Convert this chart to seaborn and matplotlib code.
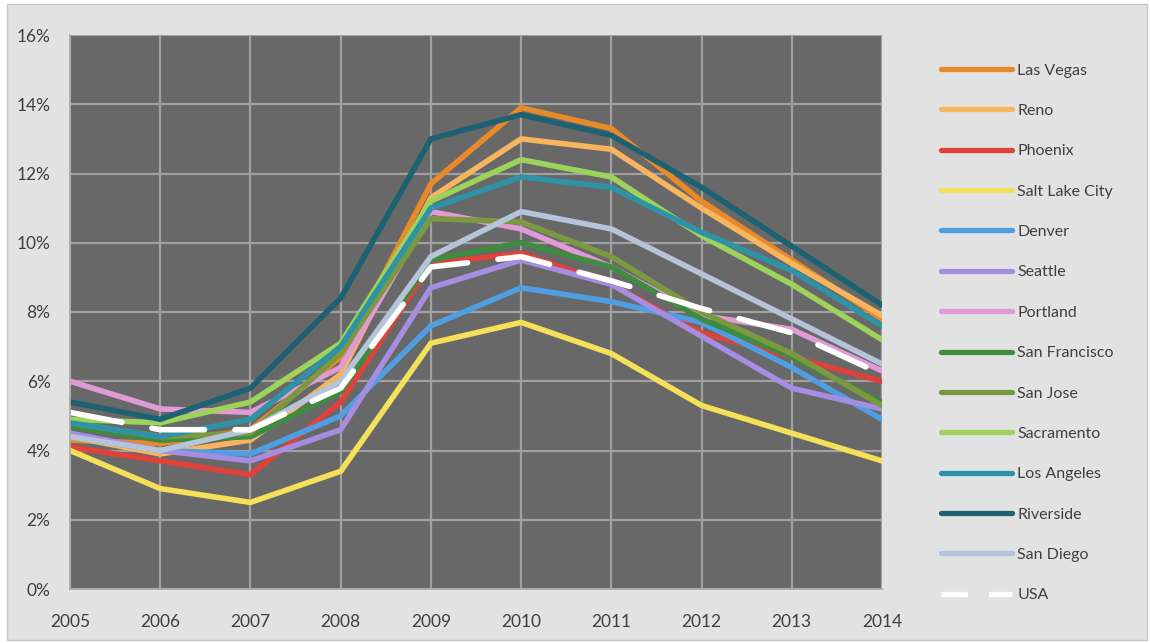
import numpy as np
import pandas as pd
import matplotlib
matplotlib.use("Agg")
import matplotlib.pyplot as plt
from matplotlib.lines import Line2D
from matplotlib.patches import Rectangle
from matplotlib.ticker import FuncFormatter
import seaborn as sns

# Unemployment rate (%) by metro area, 2005-2014
years = [2005, 2006, 2007, 2008, 2009, 2010, 2011, 2012, 2013, 2014]

las_vegas      = [4.3, 4.2, 4.6, 6.7, 11.7, 13.9, 13.3, 11.2, 9.5, 7.8]
reno           = [4.4, 3.9, 4.3, 6.2, 11.3, 13.0, 12.7, 11.0, 9.4, 7.9]
phoenix        = [4.1, 3.7, 3.3, 5.4, 9.4, 9.7, 8.8, 7.4, 6.7, 6.0]
salt_lake_city = [4.0, 2.9, 2.5, 3.4, 7.1, 7.7, 6.8, 5.3, 4.5, 3.7]
denver         = [4.4, 4.0, 3.9, 5.0, 7.6, 8.7, 8.3, 7.7, 6.4, 4.9]
seattle        = [4.5, 4.0, 3.7, 4.6, 8.7, 9.5, 8.8, 7.3, 5.8, 5.2]
portland       = [6.0, 5.2, 5.1, 6.4, 10.9, 10.4, 9.3, 7.9, 7.5, 6.3]
san_francisco  = [4.7, 4.3, 4.4, 5.7, 9.5, 10.0, 9.3, 7.8, 6.7, 5.4]
san_jose       = [4.8, 4.4, 4.5, 6.8, 10.7, 10.6, 9.6, 8.0, 6.8, 5.3]
sacramento     = [4.9, 4.8, 5.4, 7.1, 11.2, 12.4, 11.9, 10.2, 8.8, 7.2]
los_angeles    = [4.8, 4.4, 4.9, 7.0, 11.0, 11.9, 11.6, 10.3, 9.2, 7.6]
riverside      = [5.4, 4.9, 5.8, 8.4, 13.0, 13.7, 13.1, 11.6, 9.9, 8.2]
san_diego      = [4.4, 4.0, 4.6, 6.0, 9.6, 10.9, 10.4, 9.1, 7.8, 6.5]
usa            = [5.1, 4.6, 4.6, 5.8, 9.3, 9.6, 8.9, 8.1, 7.4, 6.2]

series_names = ["Las Vegas", "Reno", "Phoenix", "Salt Lake City", "Denver",
                "Seattle", "Portland", "San Francisco", "San Jose",
                "Sacramento", "Los Angeles", "Riverside", "San Diego", "USA"]
series_values = [las_vegas, reno, phoenix, salt_lake_city, denver, seattle,
                 portland, san_francisco, san_jose, sacramento, los_angeles,
                 riverside, san_diego, usa]

colors = {
    "Las Vegas": "#e8892a",
    "Reno": "#f8b560",
    "Phoenix": "#e0413a",
    "Salt Lake City": "#f5e05a",
    "Denver": "#4f9ee2",
    "Seattle": "#a58ee2",
    "Portland": "#e09ad6",
    "San Francisco": "#3e8c40",
    "San Jose": "#7b9a40",
    "Sacramento": "#9dd35a",
    "Los Angeles": "#2f93a8",
    "Riverside": "#1c6273",
    "San Diego": "#b6c4da",
    "USA": "#ffffff",
}

df = pd.DataFrame(
    [(name, yr, val) for name, vals in zip(series_names, series_values)
     for yr, val in zip(years, vals)],
    columns=["city", "year", "rate"],
)

sns.set_theme(style="white")
plt.rcParams["font.family"] = ["Lato", "DejaVu Sans"]

fig = plt.figure(figsize=(11.5, 6.43), dpi=100, facecolor="white")
# chart frame, kept behind the axes
frame = Rectangle((7 / 1150, 3 / 643), 1140 / 1150, 636 / 643,
                  transform=fig.transFigure, facecolor="#e2e2e2",
                  edgecolor="#c4c4c4", linewidth=1.0, zorder=-10)
fig.patches.append(frame)

ax = fig.add_axes([70 / 1150, (643 - 589) / 643, 812 / 1150, 554 / 643])
ax.set_zorder(1)
ax.set_facecolor("#686868")

lw = 4.0
dash_map = {n: "" for n in series_names}
dash_map["USA"] = (9.5, 5.5)
sns.lineplot(data=df, x="year", y="rate", hue="city", style="city",
             hue_order=series_names, style_order=series_names,
             palette=colors, dashes=dash_map, linewidth=lw,
             legend=False, ax=ax, sort=True)
for ln in ax.get_lines():
    ln.set_solid_joinstyle("round")
    ln.set_dash_capstyle("round")

ax.set_xlim(2005, 2014)
ax.set_ylim(0, 16)
ax.set_xticks(years)
ax.set_yticks(np.arange(0, 17, 2))
ax.yaxis.set_major_formatter(FuncFormatter(lambda v, p: f"{v:.0f}%"))
ax.grid(True, color="#a0a0a0", linewidth=1.6)
ax.set_axisbelow(True)
ax.set_xlabel("")
ax.set_ylabel("")
for side in ["top", "right"]:
    ax.spines[side].set_visible(False)
for side in ["left", "bottom"]:
    ax.spines[side].set_color("#a8a8a8")
    ax.spines[side].set_linewidth(1.2)
ax.tick_params(axis="both", which="both", length=5, width=1.2, color="#a8a8a8",
               labelsize=12.5, labelcolor="#404040")
ax.tick_params(axis="y", pad=9)
ax.tick_params(axis="x", pad=13)

handles = []
for n in series_names:
    if n == "USA":
        handles.append(Line2D([], [], color=colors[n], linewidth=3.8,
                              dashes=(5.0, 4.0)))
    else:
        handles.append(Line2D([], [], color=colors[n], linewidth=3.8))
leg = fig.legend(handles, series_names, loc="upper left",
                 bbox_to_anchor=(935 / 1150, 1 - 57 / 643),
                 frameon=False, fontsize=11.5, handlelength=4.4,
                 handletextpad=0.35, labelspacing=1.64, borderaxespad=0)
for t in leg.get_texts():
    t.set_color("#404040")

fig.savefig("out.png", dpi=100, facecolor=fig.get_facecolor())
